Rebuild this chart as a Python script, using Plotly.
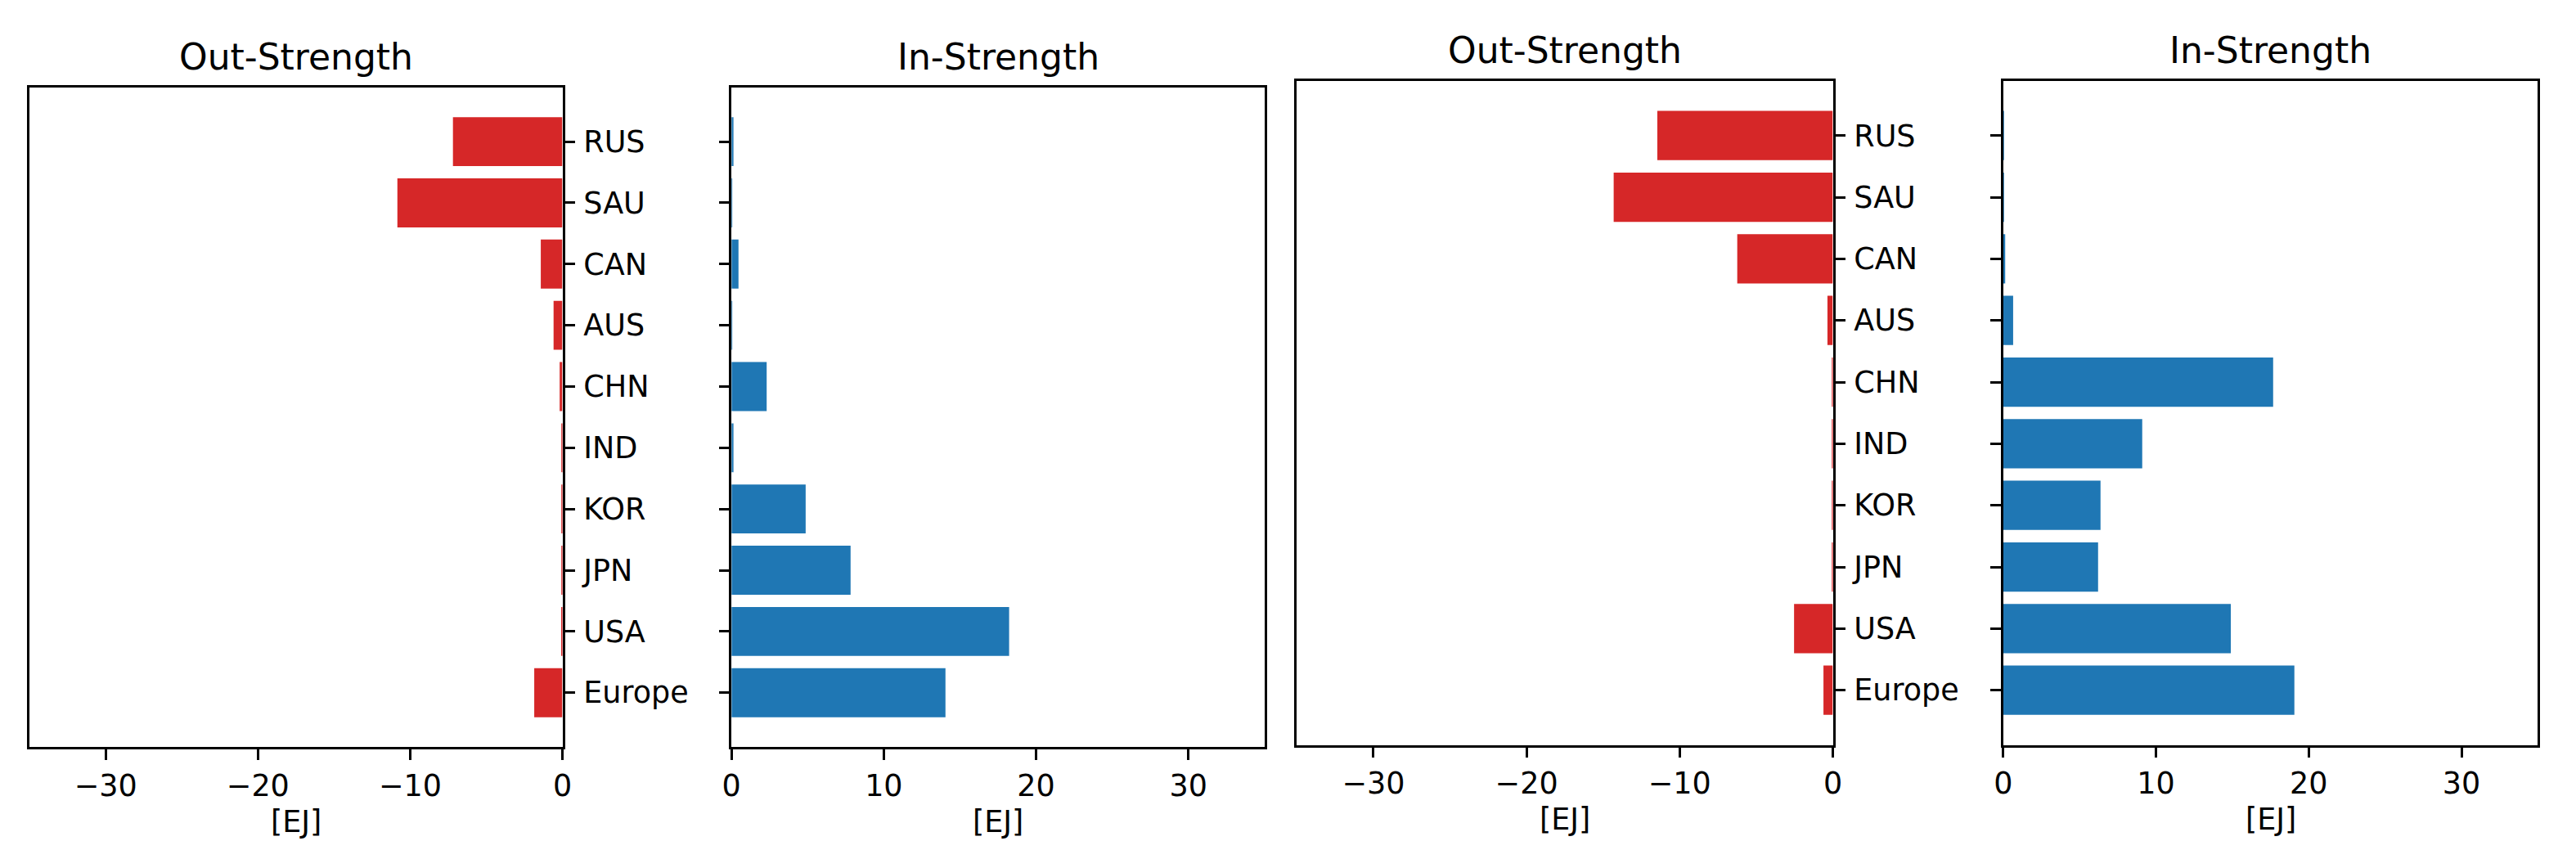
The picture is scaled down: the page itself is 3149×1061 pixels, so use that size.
import plotly.graph_objects as go

# ---- data ----
categories = ["RUS", "SAU", "CAN", "AUS", "CHN", "IND", "KOR", "JPN", "USA", "Europe"]

out_strength_a = [-7.19, -10.84, -1.42, -0.58, -0.18, -0.05, -0.06, -0.06, -0.08, -1.85]
in_strength_a = [0.13, 0.03, 0.46, 0.03, 2.31, 0.13, 4.87, 7.82, 18.23, 14.05]
out_strength_b = [-11.46, -14.31, -6.24, -0.35, -0.05, -0.05, -0.04, -0.04, -2.53, -0.61]
in_strength_b = [0.03, 0.03, 0.13, 0.65, 17.67, 9.10, 6.37, 6.21, 14.90, 19.06]

neg_tickvals = [-30, -20, -10, 0]
neg_ticktext = ["\u221230", "\u221220", "\u221210", "0"]
pos_tickvals = [0, 10, 20, 30]
pos_ticktext = ["0", "10", "20", "30"]

titles = ["Out-Strength", "In-Strength", "Out-Strength", "In-Strength"]
unit_label = "[EJ]"

RED = "#d62728"
BLUE = "#1f77b4"
FONT = "DejaVu Sans"
W, H = 3149, 1061

# panel geometry in pixels (left, right, top, bottom)
panels = [
    (36.2, 687.5, 106.5, 913.3),
    (894.2, 1545.8, 106.5, 913.3),
    (1585.3, 2240.5, 98.7, 910.7),
    (2448.8, 3102.4, 98.7, 910.7),
]

series = [out_strength_a, in_strength_a, out_strength_b, in_strength_b]
colors = [RED, BLUE, RED, BLUE]

fig = go.Figure()
cat_bottom_up = list(reversed(categories))

for i, (vals, col) in enumerate(zip(series, colors)):
    n = i + 1
    xa = "x" if n == 1 else f"x{n}"
    ya = "y" if n == 1 else f"y{n}"
    fig.add_trace(go.Bar(
        x=vals, y=categories, orientation="h",
        marker=dict(color=col, line=dict(width=0)),
        width=0.8, xaxis=xa, yaxis=ya, showlegend=False,
    ))
    l, r, t, b = panels[i]
    negative = (i % 2 == 0)
    xaxis = dict(
        domain=[l / W, r / W],
        range=[-35, 0] if negative else [0, 35],
        tickvals=neg_tickvals if negative else pos_tickvals,
        ticktext=neg_ticktext if negative else pos_ticktext,
        ticks="outside", ticklen=12.5, tickwidth=3, tickcolor="black",
        showline=True, linecolor="black", linewidth=3, mirror=True,
        showgrid=False, zeroline=False, automargin=False,
        tickfont=dict(family=FONT, size=36.5, color="black"),
        anchor=ya,
    )
    yaxis = dict(
        domain=[(H - b) / H, (H - t) / H],
        type="category",
        categoryorder="array", categoryarray=cat_bottom_up,
        range=[-0.89, 9.89],
        ticks="outside", ticklen=12.5, tickwidth=3, tickcolor="black",
        showline=True, linecolor="black", linewidth=3, mirror=True,
        showgrid=False, zeroline=False, automargin=False,
        side="right" if negative else "left",
        showticklabels=negative,
        ticklabelstandoff=3,
        tickfont=dict(family=FONT, size=36.5, color="black"),
        anchor=xa,
    )
    fig.layout["xaxis" if n == 1 else f"xaxis{n}"] = xaxis
    fig.layout["yaxis" if n == 1 else f"yaxis{n}"] = yaxis

    cx = (l + r) / 2 / W
    title_baseline = t - 21.5
    fig.add_annotation(
        text=titles[i], x=cx, y=(H - (title_baseline - 0.35 * 44)) / H,
        xref="paper", yref="paper", xanchor="center", yanchor="middle",
        showarrow=False, font=dict(family=FONT, size=44, color="black"),
    )
    label_baseline = b + 104
    fig.add_annotation(
        text=unit_label, x=cx, y=(H - (label_baseline - 0.35 * 36.5)) / H,
        xref="paper", yref="paper", xanchor="center", yanchor="middle",
        showarrow=False, font=dict(family=FONT, size=36.5, color="black"),
    )

fig.update_layout(
    width=W, height=H,
    margin=dict(l=0, r=0, t=0, b=0, autoexpand=False),
    paper_bgcolor="white", plot_bgcolor="white",
    bargap=0.2,
)

fig.write_html(
    "out.html",
    config={"displayModeBar": False},
    post_script="document.body.style.margin='0';document.body.style.overflow='hidden';",
)
